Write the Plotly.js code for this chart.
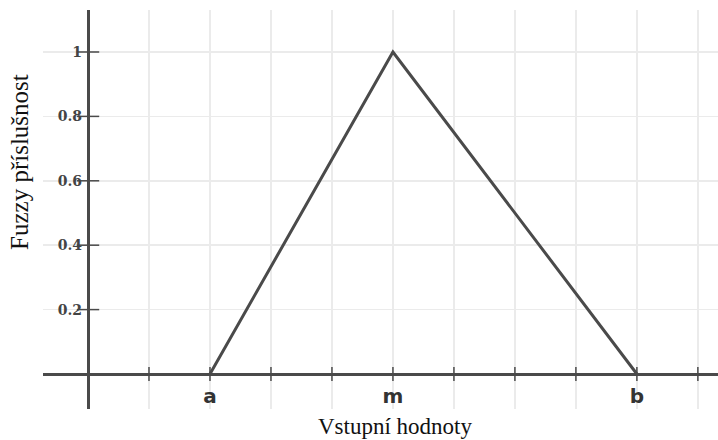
<!DOCTYPE html>
<html><head><meta charset="utf-8">
<script src="https://cdn.plot.ly/plotly-3.0.1.min.js"></script>
<style>html,body{margin:0;padding:0;background:#fff}#chart{width:718px;height:440px}</style>
</head><body><div id="chart"></div>
<script>
// Data
const xTickVals = [0, 1, 2, 3, 4, 5, 6, 7, 8, 9, 10];
const xTickText = ['', '', 'a', '', '', 'm', '', '', '', 'b', ''];
const xTickMarks = [1, 2, 3, 4, 5, 6, 7, 8, 9, 10];
const yTickVals = [0.2, 0.4, 0.6, 0.8, 1];
const yTickText = ['0.2', '0.4', '0.6', '0.8', '1'];
const triangleX = [2, 5, 9];          // a, m, b
const membership = [0, 1, 0];
const xTitle = 'Vstupní hodnoty';
const yTitle = 'Fuzzy příslušnost';

const axisColor = '#4a4a4a';
const gridColor = '#ebebeb';

const traces = [
  { // tick marks on x axis
    x: xTickMarks, y: xTickMarks.map(() => 0), type: 'scatter', mode: 'markers',
    marker: { symbol: 'line-ns', size: 10, line: { color: axisColor, width: 1.5 } },
    hoverinfo: 'skip', showlegend: false
  },
  { // tick marks on y axis
    x: yTickVals.map(() => 0), y: yTickVals, type: 'scatter', mode: 'markers',
    marker: { symbol: 'line-ew', size: 16, line: { color: axisColor, width: 1.5 } },
    hoverinfo: 'skip', showlegend: false
  },
  {
    x: triangleX, y: membership, type: 'scatter', mode: 'lines',
    line: { color: '#4a4a4a', width: 3 }, showlegend: false
  }
];

const layout = {
  width: 718, height: 440,
  margin: { l: 43, r: 0, t: 10, b: 31 },
  paper_bgcolor: '#fff', plot_bgcolor: '#fff',
  showlegend: false,
  xaxis: {
    range: [-0.738, 10.33], tickmode: 'array', tickvals: xTickVals, ticktext: xTickText,
    showgrid: true, gridcolor: gridColor, gridwidth: 1.5,
    zeroline: true, zerolinecolor: axisColor, zerolinewidth: 3,
    showline: false, ticks: '', anchor: 'free', position: 0.0877,
    ticklabelstandoff: 8,
    tickfont: { family: 'DejaVu Sans', size: 20, weight: 'bold', color: '#333' },
    fixedrange: true
  },
  yaxis: {
    range: [-0.1087, 1.1304], tickmode: 'array', tickvals: yTickVals, ticktext: yTickText,
    showgrid: true, gridcolor: gridColor, gridwidth: 1.5,
    zeroline: true, zerolinecolor: axisColor, zerolinewidth: 3,
    showline: false, ticks: '', anchor: 'free', position: 0.0667,
    ticklabelstandoff: 6,
    tickfont: { family: 'DejaVu Serif', size: 14, weight: 'bold', color: '#444' },
    fixedrange: true
  },
  annotations: [
    { text: xTitle, xref: 'paper', yref: 'paper', x: 0.5215, y: -0.043,
      xanchor: 'center', yanchor: 'middle', showarrow: false,
      font: { family: 'Liberation Serif', size: 23, color: '#111' } },
    { text: yTitle, xref: 'paper', yref: 'paper', x: -0.0341, y: 0.6192,
      xanchor: 'center', yanchor: 'middle', showarrow: false, textangle: -90,
      font: { family: 'Liberation Serif', size: 25, color: '#111' } }
  ]
};

Plotly.newPlot('chart', traces, layout, { displayModeBar: false, staticPlot: true });
</script>
</body></html>
